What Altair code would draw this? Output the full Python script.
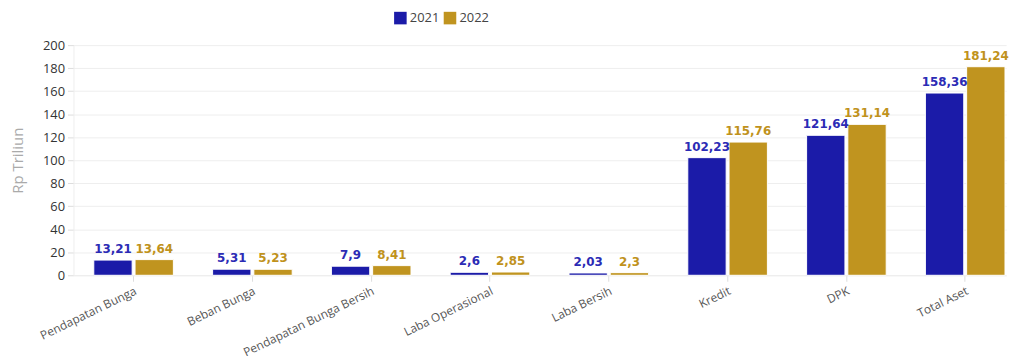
import altair as alt
import pandas as pd

categories = ["Pendapatan Bunga", "Beban Bunga", "Pendapatan Bunga Bersih",
              "Laba Operasional", "Laba Bersih", "Kredit", "DPK", "Total Aset"]
years = ["2021", "2022"]
values_2021 = [13.21, 5.31, 7.9, 2.6, 2.03, 102.23, 121.64, 158.36]
values_2022 = [13.64, 5.23, 8.41, 2.85, 2.3, 115.76, 131.14, 181.24]
y_max = 200
y_tick_count = 10

bar_colors = ["#1b1ba8", "#c0941f"]
text_colors = ["#2b2bb5", "#c0921c"]


def fmt(v):
    return str(v).replace(".", ",")


rows = []
for c, a, b in zip(categories, values_2021, values_2022):
    rows.append({"Kategori": c, "Tahun": "2021", "Nilai": a, "Label": fmt(a)})
    rows.append({"Kategori": c, "Tahun": "2022", "Nilai": b, "Label": fmt(b)})
df = pd.DataFrame(rows)

x_axis = alt.Axis(labelAngle=334, labelFont="Open Sans", labelFontSize=12,
                  labelColor="#555", tickColor="#ddd", tickSize=6,
                  domainColor="#eee", labelPadding=4, labelAlign="right",
                  labelBaseline="top")
x_scale = alt.Scale(paddingInner=0.33, paddingOuter=0.09, align=0.95)
y_axis = alt.Axis(tickCount=y_tick_count, labelOverlap=False, labelFont="Open Sans",
                  labelFontSize=13, labelColor="#333", tickColor="#ddd",
                  tickSize=6, domainColor="#eee", gridColor="#eee",
                  labelPadding=3, titleFont="Open Sans", titleFontSize=15,
                  titleFontWeight="normal", titleColor="#aaa", titlePadding=17)
y_scale = alt.Scale(domain=[0, y_max], nice=False)

x_enc = alt.X("Kategori:N", sort=categories, title=None, scale=x_scale, axis=x_axis)
xoff = alt.XOffset("Tahun:N", sort=years, scale=alt.Scale(paddingInner=0.07))
y_enc = alt.Y("Nilai:Q", title="Rp Triliun", scale=y_scale, axis=y_axis)
color_enc = alt.Color("Tahun:N", sort=years,
                      scale=alt.Scale(domain=years, range=bar_colors),
                      legend=alt.Legend(title=None, orient="none", direction="horizontal",
                                        legendX=323, legendY=-34, symbolType="square",
                                        symbolSize=160, symbolStrokeWidth=0,
                                        labelFont="Open Sans", labelFontSize=13,
                                        labelColor="#444", columnPadding=4,
                                        labelOffset=3, symbolOpacity=1))

bars = alt.Chart(df).mark_bar(stroke="white", strokeWidth=1, opacity=1).encode(
    x=x_enc, xOffset=xoff, y=y_enc, color=color_enc
)

labels = alt.Chart(df).mark_text(dy=-4, font="DejaVu Sans", fontWeight="bold",
                                 fontSize=12, baseline="bottom").encode(
    x=x_enc,
    xOffset=xoff,
    y=y_enc,
    text="Label:N",
    color=alt.Color("Tahun:N", sort=years,
                    scale=alt.Scale(domain=years, range=text_colors), legend=None),
)

chart = alt.layer(bars, labels).resolve_scale(color="independent").properties(
    width=940, height=232, padding={"top": 2, "left": 2, "right": 5, "bottom": 5}
).configure_view(stroke=None)

chart.save("out.html", embed_options={"renderer": "svg", "actions": False})
